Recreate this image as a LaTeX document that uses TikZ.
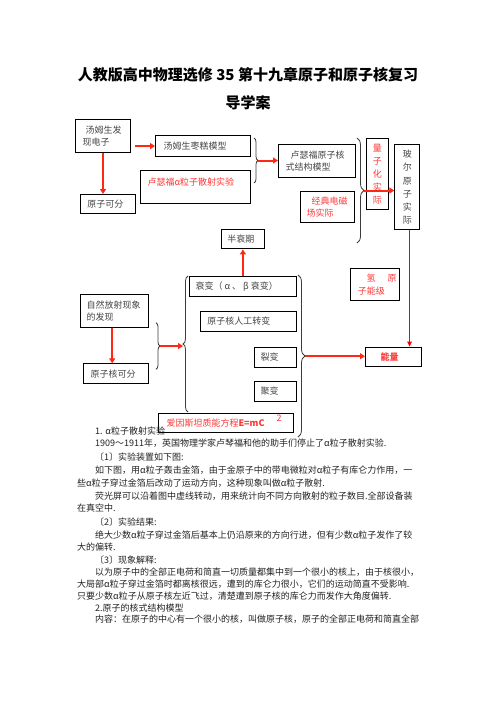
\documentclass[tikz,border=0pt]{standalone}
\usepackage{fontspec}
\setmainfont{Noto Sans CJK SC}
\usetikzlibrary{arrows.meta,decorations.pathreplacing}
\definecolor{arrred}{RGB}{255,40,20}
\definecolor{purered}{RGB}{255,0,0}
\definecolor{txtred}{RGB}{255,55,55}
\definecolor{boxtxt}{RGB}{70,70,70}
\definecolor{bodytxt}{RGB}{35,35,35}
\definecolor{bracegray}{RGB}{60,60,60}
\tikzset{
  bx/.style={draw=black, line width=1.1pt, anchor=north west, inner ysep=0pt,
    align=left, font=\fontsize{9}{12.5}\selectfont, text=boxtxt},
  vbx/.style={draw=black, line width=1.1pt, anchor=north west, inner sep=0pt,
    align=center, font=\fontsize{9}{13.2}\selectfont, text=boxtxt},
  redtxt/.style={text=txtred},
  arr/.style={draw=arrred, line width=2pt, -{Triangle[length=5pt,width=6pt]}},
  thinarr/.style={draw=purered, line width=1.2pt, -{Triangle[length=5pt,width=4.5pt]}},
  brc/.style={draw=bracegray, line width=0.8pt, decorate},
  body/.style={anchor=west, inner sep=0pt, text=bodytxt, font=\fontsize{9}{11}\selectfont},
  ttl/.style={inner sep=0pt, text=black, font=\fontsize{15}{18}\selectfont\bfseries}
}
\begin{document}
\begin{tikzpicture}[x=1pt,y=-1pt]
\path[use as bounding box, fill=white] (0,0) rectangle (496,702);

% title
\node[ttl] (t1) at (248,75) {人教版高中物理选修 35 第十九章原子和原子核复习};
\node[ttl] (t2) at (248,103) {导学案};

% boxes
\node[bx, minimum width=55pt, minimum height=33pt, inner xsep=7pt, text width=41pt] (A) at (75,119) {\hspace*{3pt}汤姆生发\\现电子};
\node[bx, minimum width=95pt, minimum height=21pt, inner xsep=8pt, text width=79pt] (B) at (155,135) {汤姆生枣糕模型};
\node[bx, redtxt, minimum width=110pt, minimum height=33pt, inner xsep=7pt, text width=96pt] (C) at (140,170) {\raisebox{5pt}[\height][\depth]{卢瑟福α粒子散射实验}};
\node[bx, minimum width=55pt, minimum height=19pt, inner xsep=6.7pt, text width=41.6pt] (D) at (80,194) {原子可分};
\node[bx, minimum width=77pt, minimum height=33pt, inner xsep=7pt, text width=63pt] (E) at (278,144) {\hspace*{5pt}卢瑟福原子核\\式结构模型};
\node[bx, redtxt, minimum width=54pt, minimum height=31pt, inner xsep=6pt, text width=42pt] (F) at (300,191) {\hspace*{5pt}经典电磁\\场实际};
\node[vbx, redtxt, minimum width=22pt, minimum height=70.7pt] (G) at (365.7,138.3) {量\\子\\化\\实\\际};
\node[vbx, minimum width=25pt, minimum height=85.3pt] (H) at (394.3,144) {玻\\尔\\原\\子\\实\\际};
\node[bx, minimum width=43.3pt, minimum height=19pt, inner xsep=6pt, text width=31.3pt] (I) at (220.7,229.3) {半衰期};
\node[bx, minimum width=106.7pt, minimum height=20pt, inner xsep=6pt, text width=94.7pt] (J) at (189,276) {衰变（\hspace{2pt}α\hspace{2pt}、\hspace{2pt}β\hspace{2pt}衰变）};
\node[bx, minimum width=95.7pt, minimum height=20pt, inner xsep=6.7pt, text width=82.3pt] (K) at (200,310.7) {原子核人工转变};
\node[bx, minimum width=41.7pt, minimum height=20pt, inner xsep=6pt, text width=29.7pt] (L) at (254,346.7) {裂变};
\node[bx, minimum width=41.7pt, minimum height=19.7pt, inner xsep=6pt, text width=29.7pt] (M) at (254,381) {聚变};
\node[bx, redtxt, minimum width=135pt, minimum height=19pt, inner xsep=7.7pt, text width=119.6pt] (N) at (158.3,413.3) {爱因斯坦质能方程\textbf{E=mC}\hspace{12pt}\raisebox{5pt}[0pt][0pt]{2}};
\node[bx, minimum width=68.3pt, minimum height=32.4pt, inner xsep=6pt, text width=56.3pt] (O) at (80,294.3) {自然放射现象\\的发现};
\node[bx, minimum width=65pt, minimum height=20pt, inner xsep=6.7pt, text width=51.6pt] (P) at (83.3,363.3) {原子核可分};
\node[bx, redtxt, minimum width=48.7pt, minimum height=31.7pt, inner xsep=2.4pt, text width=43.9pt] (Q) at (350,268.3) {\makebox[43.9pt][l]{\hspace*{13.6pt}氢\hspace{12pt}原}\\\makebox[43.9pt][l]{\hspace*{4.9pt}子能级}};
\node[bx, redtxt, minimum width=55.7pt, minimum height=19pt, inner xsep=15pt, text width=25.7pt] (R) at (365,346.7) {\textbf{能量}};

% braces
\draw[brc, decoration={brace, amplitude=4pt}] (254,138) -- (254,183);
\draw[brc, decoration={brace, amplitude=7pt}] (357,138) -- (357,243);
\draw[brc, decoration={brace, amplitude=4pt}] (156,322.7) -- (156,369.3);
\draw[brc, decoration={brace, amplitude=5pt}] (188,412) -- (188,276);
\draw[brc, decoration={brace, amplitude=7pt}] (298,275) -- (298,437);
\coordinate (tp1) at (258,160.5);
\coordinate (tp2) at (364,190.5);
\coordinate (tp3) at (160,346);
\coordinate (tp4) at (183,346);
\coordinate (tp5) at (305,356.2);

% connectors
\draw[arr] ([xshift=4pt]A.east |- B.west) -- (B.west);
\draw[arr] (A.south) -- (A.south |- D.north);
\draw[arr] (tp1) -- (tp1 -| E.west);
\draw[arr] (tp2) -- (tp2 -| H.west);
\draw[thinarr] ([xshift=2.2pt]H.south) -- ([xshift=2.2pt]H.south |- R.north);
\draw[arr] (J.north -| I.south) -- (I.south);
\draw[arr] ([xshift=-2.5pt]O.south) -- ([xshift=-2.5pt]O.south |- P.north);
\draw[arr] (tp3) -- (tp4);
\draw[arr] (tp5) -- (tp5 -| R.west);

% body text
\node[body] (l1) at (95,430.7) {1. α粒子散射实验};
\node[body] (l2) at (95,443.5) {1909～1911年，英国物理学家卢琴福和他的助手们停止了α粒子散射实验.};
\node[body] (l3) at (95,457) {〔1〕实验装置如下图:};
\node[body] (l4) at (95,470.3) {如下图，用α粒子轰击金箔，由于金原子中的带电微粒对α粒子有库仑力作用，一};
\node[body] (l5) at (77,483.3) {些α粒子穿过金箔后改动了运动方向，这种现象叫做α粒子散射.};
\node[body] (l6) at (95,496.3) {荧光屏可以沿着图中虚线转动，用来统计向不同方向散射的粒子数目.全部设备装};
\node[body] (l7) at (77,508) {在真空中.};
\node[body] (l8) at (95,522) {〔2〕实验结果:};
\node[body] (l9) at (95,535) {绝大少数α粒子穿过金箔后基本上仍沿原来的方向行进，但有少数α粒子发作了较};
\node[body] (l10) at (77,547) {大的偏转.};
\node[body] (l11) at (95,560.5) {〔3〕现象解释:};
\node[body] (l12) at (95,572.5) {以为原子中的全部正电荷和简直一切质量都集中到一个很小的核上，由于核很小，};
\node[body] (l13) at (77,584.5) {大局部α粒子穿过金箔时都离核很远，遭到的库仑力很小，它们的运动简直不受影响.};
\node[body] (l14) at (77,596.5) {只要少数α粒子从原子核左近飞过，清楚遭到原子核的库仑力而发作大角度偏转.};
\node[body] (l15) at (95,608.5) {2.原子的核式结构模型};
\node[body] (l16) at (95,619.5) {内容：在原子的中心有一个很小的核，叫做原子核，原子的全部正电荷和简直全部};
\end{tikzpicture}
\end{document}
